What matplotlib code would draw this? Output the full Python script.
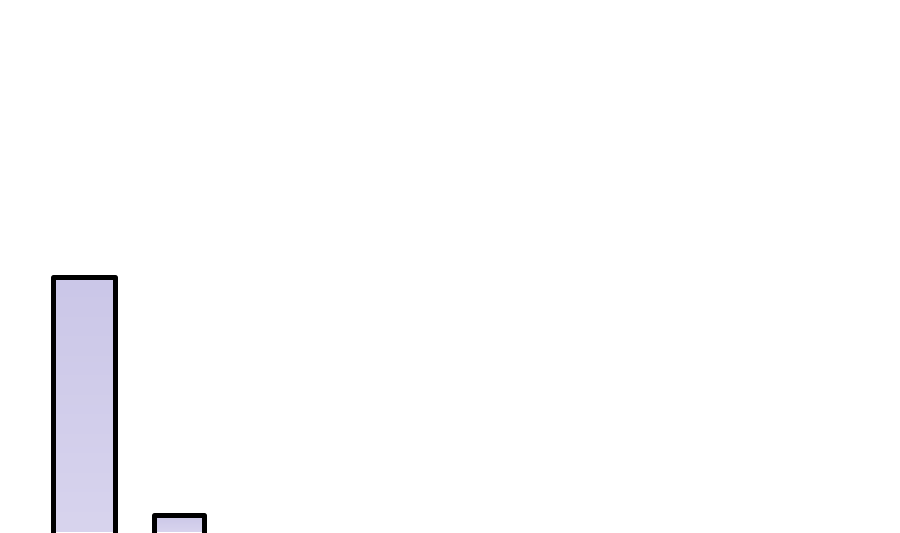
import numpy as np
import matplotlib.pyplot as plt
from matplotlib.colors import LinearSegmentedColormap

# values (chart is cropped, baseline lies below the frame)
categories = ['A', 'B']
values = [100, 30]

fig = plt.figure(figsize=(9, 5.33), dpi=100)
ax = fig.add_axes([0, 0, 1, 1])
ax.axis('off')

widths = [0.653, 0.526]
x = np.arange(len(categories))
bars = ax.bar(x, values, width=widths, bottom=0, facecolor='none',
              edgecolor='black', linewidth=3.6, zorder=3)

cmap = LinearSegmentedColormap.from_list('lav', ['#d8d4ee', '#cbc7e8'])
grad = np.linspace(0, 1, 256).reshape(-1, 1)
for b in bars:
    b.set_joinstyle('round')
    x0, y0 = b.get_x(), b.get_y()
    im = ax.imshow(grad, cmap=cmap, origin='lower', aspect='auto',
                   extent=[x0, x0 + b.get_width(), 25, y0 + b.get_height()],
                   zorder=2)
    im.set_clip_path(b)

ax.set_xlim(-0.884, 8.59)
ax.set_ylim(24.7, 181.5)

fig.savefig('out.png', dpi=100)
